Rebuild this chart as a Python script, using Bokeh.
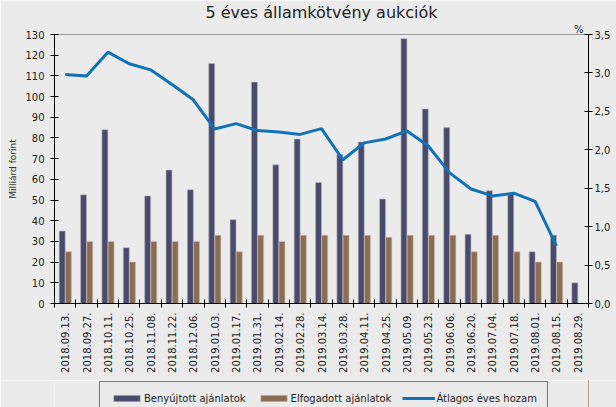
import math
from bokeh.plotting import figure
from bokeh.layouts import column
from bokeh.models import (Range1d, LinearAxis, FixedTicker, Title,
                          CustomJSTickFormatter, Legend, LegendItem, ColumnDataSource)
from bokeh.transform import dodge
from bokeh.embed import file_html
from bokeh.resources import INLINE

NaN = float("nan")

title_text = "5 éves államkötvény aukciók"
y_left_label = "Milliárd forint"
y_right_unit = "%"

dates = ["2018.09.13.", "2018.09.27.", "2018.10.11.", "2018.10.25.", "2018.11.08.",
         "2018.11.22.", "2018.12.06.", "2019.01.03.", "2019.01.17.", "2019.01.31.",
         "2019.02.14.", "2019.02.28.", "2019.03.14.", "2019.03.28.", "2019.04.11.",
         "2019.04.25.", "2019.05.09.", "2019.05.23.", "2019.06.06.", "2019.06.20.",
         "2019.07.04.", "2019.07.18.", "2019.08.01.", "2019.08.15.", "2019.08.29."]

submitted = [35, 52.5, 84, 27, 52, 64.5, 55, 116, 40.5, 107,
             67, 79.5, 58.5, 72, 78, 50.5, 128, 94, 85, 33.5,
             54.5, 53, 25, 33, 10]

accepted = [25, 30, 30, 20, 30, 30, 30, 33, 25, 33,
            30, 33, 33, 33, 33, 32, 33, 33, 33, 25,
            33, 25, 20, 20, NaN]

avg_yield = [2.98, 2.96, 3.27, 3.12, 3.04, 2.85, 2.65, 2.27, 2.34, 2.25,
             2.23, 2.20, 2.275, 1.87, 2.09, 2.14, 2.245, 2.05, 1.70, 1.49,
             1.40, 1.435, 1.33, 0.75, NaN]

series_names = ["Benyújtott ajánlatok", "Elfogadott ajánlatok", "Átlagos éves hozam"]
left_ticks = [0, 10, 20, 30, 40, 50, 60, 70, 80, 90, 100, 110, 120, 130]
right_ticks = [0, 0.5, 1.0, 1.5, 2.0, 2.5, 3.0, 3.5]

BG = "#ebebeb"
FONT = "DejaVu Sans"
TXT = "#222222"
C_SUB = "#4a4a6b"
C_ACC = "#8b6d56"
C_LINE = "#1272b6"
SUB_EDGE = "#b8b8c8"
ACC_EDGE = "#cdbfb2"

n = len(dates)
centers = [i + 0.5 for i in range(n)]  # category slot centres on the index axis
bounds = list(range(n + 1))             # category slot boundaries
source = ColumnDataSource(dict(pos=centers, date=dates, submitted=submitted,
                               accepted=accepted, yld=avg_yield))

p = figure(width=616, height=380, x_range=Range1d(0, n), y_range=Range1d(0, 130),
           output_backend="svg", toolbar_location=None, x_axis_location=None,
           min_border_left=54, min_border_right=28, min_border_top=31, min_border_bottom=77,
           background_fill_color=BG, border_fill_color=BG, outline_line_color="#9a9a9a")
p.grid.visible = False

p.title.text = title_text
p.title.align = "center"
p.title.text_font = FONT
p.title.text_font_size = "16px"
p.title.text_font_style = "normal"
p.title.text_color = TXT
p.title.standoff = 0

p.add_layout(Title(text=y_right_unit, align="right", offset=5, standoff=0,
                   text_font=FONT, text_font_size="10px", text_font_style="normal",
                   text_color=TXT), "above")

p.extra_y_ranges = {"pct": Range1d(0, 3.5)}

# left axis
ya = p.yaxis[0]
ya.ticker = FixedTicker(ticks=left_ticks)
ya.axis_label = y_left_label
ya.axis_label_text_font = FONT
ya.axis_label_text_font_size = "9px"
ya.axis_label_text_font_style = "normal"
ya.axis_label_text_color = "#333333"
ya.axis_label_standoff = 4
ya.major_label_text_font = FONT
ya.major_label_text_font_size = "10px"
ya.major_label_text_color = TXT
ya.major_label_standoff = 6
ya.major_tick_in = 4
ya.major_tick_out = 4
ya.minor_tick_line_color = None
ya.axis_line_color = "black"
ya.major_tick_line_color = "black"

# right axis
ra = LinearAxis(y_range_name="pct", ticker=FixedTicker(ticks=right_ticks),
                formatter=CustomJSTickFormatter(code="return tick.toFixed(1).replace('.', ',')"),
                major_tick_in=4, major_tick_out=4, minor_tick_line_color=None,
                major_label_text_font=FONT, major_label_text_font_size="10px",
                major_label_text_color=TXT, major_label_standoff=2,
                axis_line_color="black", major_tick_line_color="black")
p.add_layout(ra, "right")

# bottom axis: labels at slot centres, tick marks (minor) at slot boundaries
xa = LinearAxis(ticker=FixedTicker(ticks=centers, minor_ticks=bounds),
                formatter=CustomJSTickFormatter(args=dict(labels=dates),
                                                code="return labels[Math.floor(tick)]"),
                major_tick_line_color=None, major_tick_in=0, major_tick_out=4,
                minor_tick_line_color="black", minor_tick_in=4, minor_tick_out=4,
                axis_line_color="black",
                major_label_orientation=math.pi / 2, major_label_standoff=5,
                major_label_text_font=FONT, major_label_text_font_size="10px",
                major_label_text_color=TXT)
p.add_layout(xa, "below")

r1 = p.vbar(x=dodge("pos", -0.14), top="submitted", width=0.28, source=source,
            fill_color=C_SUB, line_color=SUB_EDGE, line_width=0.6)
r2 = p.vbar(x=dodge("pos", 0.15), top="accepted", width=0.28, source=source,
            fill_color=C_ACC, line_color=ACC_EDGE, line_width=0.6)
r3 = p.line(x="pos", y="yld", y_range_name="pct", source=source,
            line_color=C_LINE, line_width=3)

# legend strip below the chart: same series, drawn outside this strip's view,
# used only as legend proxies
lf = figure(width=616, height=27, x_range=Range1d(-3, -2), y_range=Range1d(0, 1),
            output_backend="svg", toolbar_location=None,
            x_axis_location=None, y_axis_location=None,
            min_border=0, background_fill_color=BG, border_fill_color=BG,
            outline_line_color=None)
lf.grid.visible = False
l1 = lf.vbar(x=dodge("pos", -0.14), top="submitted", width=0.28, source=source,
             fill_color=C_SUB, line_color=SUB_EDGE, line_width=0.6)
l2 = lf.vbar(x=dodge("pos", 0.15), top="accepted", width=0.28, source=source,
             fill_color=C_ACC, line_color=ACC_EDGE, line_width=0.6)
l3 = lf.line(x="pos", y="yld", source=source, line_color=C_LINE, line_width=3)

legend = Legend(items=[LegendItem(label=series_names[0], renderers=[l1]),
                       LegendItem(label=series_names[1], renderers=[l2]),
                       LegendItem(label=series_names[2], renderers=[l3])],
                orientation="horizontal", location=(45, -8),
                border_line_color="black", border_line_width=1,
                background_fill_color=BG, background_fill_alpha=1,
                glyph_width=33, glyph_height=8, label_height=12, label_standoff=1,
                spacing=11, padding=10, margin=0,
                label_text_font=FONT, label_text_font_size="10px", label_text_color=TXT)
lf.add_layout(legend, "center")

layout = column(p, lf, spacing=0)
open("out.html", "w").write(file_html(layout, INLINE))
